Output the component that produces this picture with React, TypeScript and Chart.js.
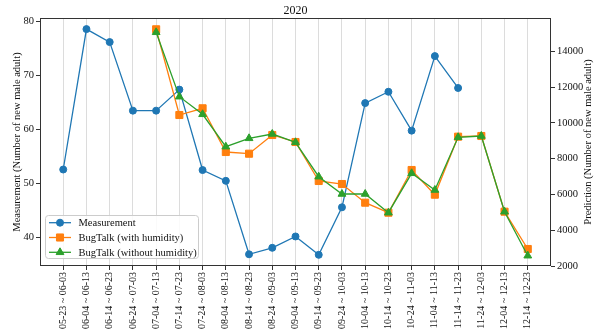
import { useEffect, useRef } from "react";
import { Chart, registerables } from "chart.js";

Chart.register(...registerables);

// Ten-day observation windows of 2020
const PERIODS = [
  "05-23 ~ 06-03", "06-04 ~ 06-13", "06-14 ~ 06-23", "06-24 ~ 07-03",
  "07-04 ~ 07-13", "07-14 ~ 07-23", "07-24 ~ 08-03", "08-04 ~ 08-13",
  "08-14 ~ 08-23", "08-24 ~ 09-03", "09-04 ~ 09-13", "09-14 ~ 09-23",
  "09-24 ~ 10-03", "10-04 ~ 10-13", "10-14 ~ 10-23", "10-24 ~ 11-03",
  "11-04 ~ 11-13", "11-14 ~ 11-23", "11-24 ~ 12-03", "12-04 ~ 12-13",
  "12-14 ~ 12-23",
];

// Trap counts (left axis)
const MEASUREMENT = [
  52.5, 78.5, 76.1, 63.4, 63.4, 67.3, 52.4, 50.4, 36.8, 38.0, 40.1,
  36.7, 45.5, 64.8, 66.9, 59.7, 73.5, 67.6, null, null, null,
];

// BugTalk predictions (right axis)
const WITH_HUMIDITY = [
  null, null, null, null, 15225, 10436, 10811, 8369, 8274, 9319, 8928,
  6749, 6581, 5537, 4978, 7364, 5984, 9226, 9263, 5034, 2950,
];
const WITHOUT_HUMIDITY = [
  null, null, null, null, 15057, 11459, 10475, 8666, 9134, 9375, 8911,
  6989, 6023, 6023, 4978, 7179, 6246, 9190, 9263, 5034, 2575,
];

const LEFT_TICKS = [40, 50, 60, 70, 80];
const RIGHT_TICKS = [2000, 4000, 6000, 8000, 10000, 12000, 14000];

const TITLE = "2020";
const LEFT_TITLE = "Measurement (Number of new male adult)";
const RIGHT_TITLE = "Prediction (Number of new male adult)";

const SERIF = "'Liberation Serif', 'Times New Roman', serif";
const TEXT = "#111111";
const BLUE = "#1f77b4";
const ORANGE = "#ff7f0e";
const GREEN = "#2ca02c";

const toPoints = (values: (number | null)[]) =>
  values.map((v, i) => ({ x: i, y: v }));

const LEGEND_ITEMS = [
  { label: "Measurement", color: BLUE, style: "circle", radius: 3.5 },
  { label: "BugTalk (with humidity)", color: ORANGE, style: "rect", radius: 5 },
  { label: "BugTalk (without humidity)", color: GREEN, style: "triangle", radius: 4.5 },
];

// Marker shapes matching Chart.js point styles, for the legend swatches
function drawMarker(ctx: CanvasRenderingContext2D, style: string, r: number, x: number, y: number) {
  ctx.beginPath();
  if (style === "circle") {
    ctx.arc(x, y, r, 0, Math.PI * 2);
  } else if (style === "rect") {
    const s = Math.SQRT1_2 * r;
    ctx.rect(x - s, y - s, 2 * s, 2 * s);
  } else {
    let a = 0;
    ctx.moveTo(x + Math.sin(a) * r, y - Math.cos(a) * r);
    a += (Math.PI * 2) / 3;
    ctx.lineTo(x + Math.sin(a) * r, y - Math.cos(a) * r);
    a += (Math.PI * 2) / 3;
    ctx.lineTo(x + Math.sin(a) * r, y - Math.cos(a) * r);
    ctx.closePath();
  }
  ctx.fill();
  ctx.lineWidth = 1;
  ctx.stroke();
}

// Frame, title, axis titles and the in-plot legend
const decorations = {
  id: "decorations",
  beforeDatasetsDraw(chart: any) {
    const { ctx, chartArea: a } = chart;
    ctx.save();
    ctx.strokeStyle = "#333333";
    ctx.lineWidth = 1;
    ctx.strokeRect(
      Math.round(a.left) + 0.5,
      Math.round(a.top) + 0.5,
      Math.round(a.right - a.left) - 1,
      Math.round(a.bottom - a.top) - 1
    );
    ctx.restore();
  },
  afterDraw(chart: any) {
    const { ctx, chartArea: a } = chart;
    const midY = (a.top + a.bottom) / 2;
    ctx.save();
    ctx.fillStyle = TEXT;
    ctx.textAlign = "center";
    ctx.textBaseline = "middle";

    ctx.font = `12px ${SERIF}`;
    ctx.fillText(TITLE, (a.left + a.right) / 2, 10.5);

    ctx.font = `10.5px ${SERIF}`;
    ctx.save();
    ctx.translate(17, midY);
    ctx.rotate(-Math.PI / 2);
    ctx.fillText(LEFT_TITLE, 0, 0);
    ctx.restore();
    ctx.save();
    ctx.translate(588, midY);
    ctx.rotate(-Math.PI / 2);
    ctx.fillText(RIGHT_TITLE, 0, 0);
    ctx.restore();

    // legend box
    const bx = 45, by = 215, bw = 153, bh = 43;
    ctx.beginPath();
    ctx.roundRect(bx + 0.5, by + 0.5, bw, bh, 3);
    ctx.fillStyle = "rgba(255,255,255,0.85)";
    ctx.fill();
    ctx.strokeStyle = "#cccccc";
    ctx.lineWidth = 1;
    ctx.stroke();

    ctx.textAlign = "left";
    LEGEND_ITEMS.forEach((item, i) => {
      const y = 222.7 + i * 14.8;
      ctx.strokeStyle = item.color;
      ctx.lineWidth = 1.3;
      ctx.beginPath();
      ctx.moveTo(49, y);
      ctx.lineTo(71, y);
      ctx.stroke();
      ctx.fillStyle = item.color;
      drawMarker(ctx, item.style, item.radius, 60, y);
      ctx.fillStyle = TEXT;
      ctx.fillText(item.label, 78.5, y + 0.5);
    });
    ctx.restore();
  },
};

export default function App() {
  const canvasRef = useRef<HTMLCanvasElement>(null);

  useEffect(() => {
    document.body.style.margin = "0";
    const tickFont = { family: SERIF, size: 10.5 };
    const chart = new Chart(canvasRef.current!, {
      type: "line",
      data: {
        datasets: [
          {
            label: "Measurement",
            data: toPoints(MEASUREMENT),
            yAxisID: "y",
            borderColor: BLUE,
            backgroundColor: BLUE,
            pointBorderColor: BLUE,
            pointBackgroundColor: BLUE,
            borderWidth: 1.3,
            pointStyle: "circle",
            pointRadius: 3.5,
            pointBorderWidth: 1,
            order: 2,
          },
          {
            label: "BugTalk (with humidity)",
            data: toPoints(WITH_HUMIDITY),
            yAxisID: "y2",
            borderColor: ORANGE,
            backgroundColor: ORANGE,
            pointBorderColor: ORANGE,
            pointBackgroundColor: ORANGE,
            borderWidth: 1.3,
            pointStyle: "rect",
            pointRadius: 5,
            pointBorderWidth: 1,
            order: 1,
          },
          {
            label: "BugTalk (without humidity)",
            data: toPoints(WITHOUT_HUMIDITY),
            yAxisID: "y2",
            borderColor: GREEN,
            backgroundColor: GREEN,
            pointBorderColor: GREEN,
            pointBackgroundColor: GREEN,
            borderWidth: 1.3,
            pointStyle: "triangle",
            pointRadius: 4.5,
            pointBorderWidth: 1,
            order: 0,
          },
        ],
      },
      options: {
        animation: false,
        responsive: false,
        devicePixelRatio: 1,
        layout: { padding: { top: 18, left: 0, right: 0, bottom: 0 } },
        plugins: {
          legend: { display: false },
          tooltip: { enabled: false },
          title: { display: false },
        },
        scales: {
          x: {
            type: "linear",
            min: -1,
            max: PERIODS.length,
            afterBuildTicks: (s: any) => {
              s.ticks = PERIODS.map((_, i) => ({ value: i }));
            },
            afterFit: (s: any) => {
              s.height = 70;
            },
            ticks: {
              autoSkip: false,
              minRotation: 90,
              maxRotation: 90,
              padding: 2,
              color: TEXT,
              font: { family: SERIF, size: 10 },
              callback: (v: any) => PERIODS[v] ?? "",
            },
            grid: { color: "#dcdcdc", tickColor: "#333333", tickLength: 4, lineWidth: 1 },
            border: { display: false },
          },
          y: {
            type: "linear",
            position: "left",
            min: 34.63,
            max: 80.56,
            afterBuildTicks: (s: any) => {
              s.ticks = LEFT_TICKS.map((v) => ({ value: v }));
            },
            afterFit: (s: any) => {
              s.width = 40;
            },
            ticks: { padding: 2, color: TEXT, font: tickFont, callback: (v: any) => String(v) },
            grid: { drawOnChartArea: false, color: "#333333", tickLength: 4 },
            border: { display: false },
          },
          y2: {
            type: "linear",
            position: "right",
            min: 2000,
            max: 15856,
            afterBuildTicks: (s: any) => {
              s.ticks = RIGHT_TICKS.map((v) => ({ value: v }));
            },
            afterFit: (s: any) => {
              s.width = 51;
            },
            ticks: { padding: 2, color: TEXT, font: tickFont, callback: (v: any) => String(v) },
            grid: { drawOnChartArea: false, color: "#333333", tickLength: 4 },
            border: { display: false },
          },
        },
      },
      plugins: [decorations],
    } as any);
    return () => chart.destroy();
  }, []);

  return (
    <div style={{ width: 602, height: 336 }}>
      <canvas ref={canvasRef} width={602} height={336} style={{ display: "block" }} />
    </div>
  );
}
